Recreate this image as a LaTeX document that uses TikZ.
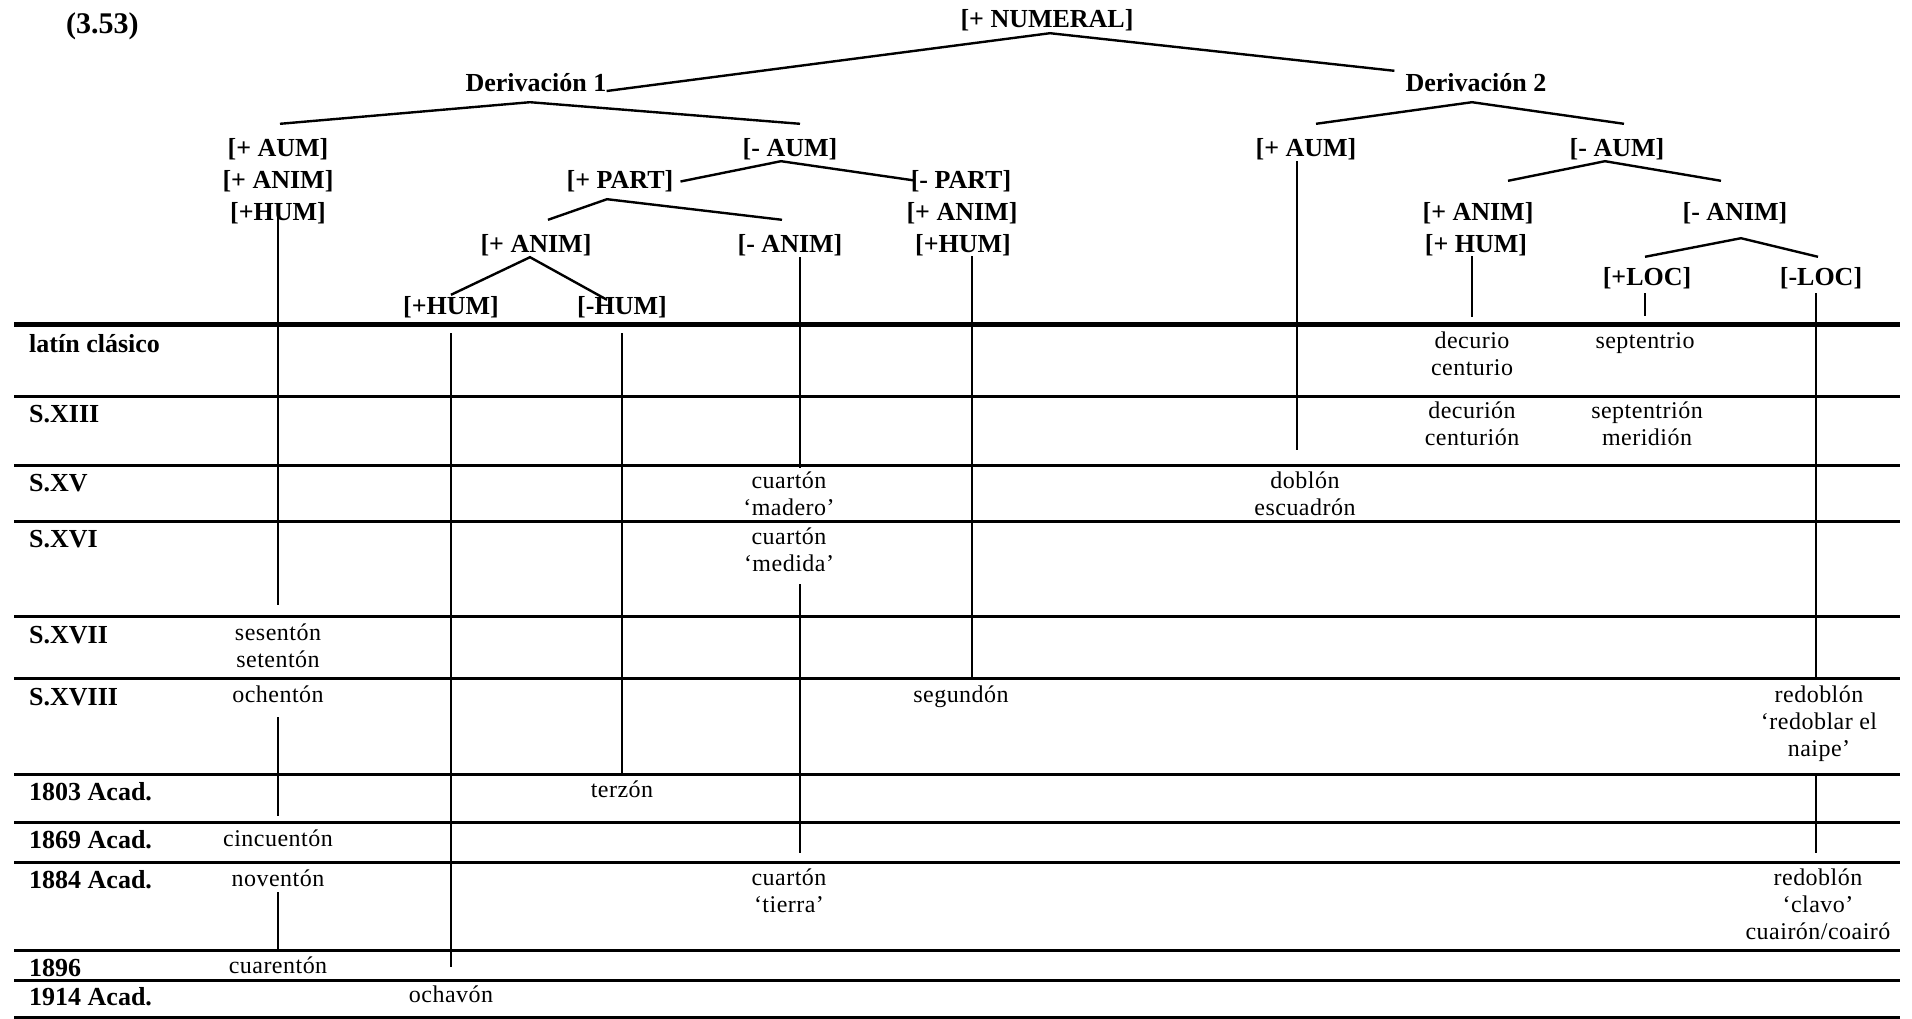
\documentclass[tikz,border=0pt]{standalone}
\usepackage{fontspec}
\setmainfont{Liberation Serif}
\newfontfamily\wordfont[LetterSpace=2]{Liberation Serif}
\usepackage{tikz}

\newcommand{\stk}[1]{\begin{tabular}[t]{@{}c@{}}#1\end{tabular}}

\begin{document}
\begin{tikzpicture}[x=1pt, y=-1pt,
  feat/.style = {font=\fontsize{26}{30}\selectfont\bfseries, inner sep=0pt, anchor=base, text height=19pt, text depth=6pt},
  era/.style = {font=\fontsize{26}{30}\selectfont\bfseries, inner sep=0pt, anchor=base west},
  word/.style = {font=\fontsize{24}{27}\selectfont\wordfont, inner sep=0pt, anchor=base},
  branch/.style = {line width=2.4pt},
  stem/.style = {line width=2pt},
  rule/.style = {line width=3pt}]

\useasboundingbox (0,0) rectangle (1912,1018);

%% title
\node[era, font=\fontsize{30}{34}\selectfont\bfseries] (ex) at (66,33) {(3.53)};

%% feature labels
\node[feat] (numeral) at (1047,27) {[+ NUMERAL]};
\node[feat] (der1) at (536,91) {Derivación 1};
\node[feat] (der2) at (1476,91) {Derivación 2};
\node[feat] (aumA) at (278,156) {[+ AUM]};
\node[feat] (animA) at (278,188) {[+ ANIM]};
\node[feat] (humA) at (278,220) {[+HUM]};
\node[feat] (naumA) at (790,156) {[- AUM]};
\node[feat] (partP) at (620,188) {[+ PART]};
\node[feat] (partM) at (961,188) {[- PART]};
\node[feat] (animM) at (962,220) {[+ ANIM]};
\node[feat] (humM) at (963,252) {[+HUM]};
\node[feat] (animP) at (536,252) {[+ ANIM]};
\node[feat] (nanimP) at (790,252) {[- ANIM]};
\node[feat] (humP) at (451,314) {[+HUM]};
\node[feat] (nhumP) at (622,314) {[-HUM]};
\node[feat] (aumB) at (1306,156) {[+ AUM]};
\node[feat] (naumB) at (1617,156) {[- AUM]};
\node[feat] (animB) at (1478,220) {[+ ANIM]};
\node[feat] (humB) at (1476,252) {[+ HUM]};
\node[feat] (nanimB) at (1735,220) {[- ANIM]};
\node[feat] (locP) at (1647,285) {[+LOC]};
\node[feat] (locM) at (1821,285) {[-LOC]};

%% row labels
\node[era] (latin) at (29,352) {latín clásico};
\node[era] (s13) at (29,422) {S.XIII};
\node[era] (s15) at (29,491) {S.XV};
\node[era] (s16) at (29,547) {S.XVI};
\node[era] (s17) at (29,643) {S.XVII};
\node[era] (s18) at (29,705) {S.XVIII};
\node[era] (y1803) at (29,800) {1803 Acad.};
\node[era] (y1869) at (29,848) {1869 Acad.};
\node[era] (y1884) at (29,888) {1884 Acad.};
\node[era] (y1896) at (29,976) {1896};
\node[era] (y1914) at (29,1005) {1914 Acad.};

%% words
\node[word] (ses) at (278,640) {\stk{sesentón\\setentón}};
\node[word] (ochen) at (278,702) {\stk{ochentón}};
\node[word] (cincu) at (278,846) {\stk{cincuentón}};
\node[word] (noven) at (278,886) {\stk{noventón}};
\node[word] (cuaren) at (278,973) {\stk{cuarentón}};
\node[word] (ochav) at (451,1002) {\stk{ochavón}};
\node[word] (terzon) at (622,797) {\stk{terzón}};
\node[word] (madero) at (789,488) {\stk{cuartón\\‘madero’}};
\node[word] (medida) at (789,544) {\stk{cuartón\\‘medida’}};
\node[word] (tierra) at (789,885) {\stk{cuartón\\‘tierra’}};
\node[word] (segundon) at (961,702) {\stk{segundón}};
\node[word] (doblon) at (1305,488) {\stk{doblón\\escuadrón}};
\node[word] (decurio) at (1472,348) {\stk{decurio\\centurio}};
\node[word] (decurion) at (1472,418) {\stk{decurión\\centurión}};
\node[word] (septen) at (1645,348) {\stk{septentrio}};
\node[word] (septenon) at (1647,418) {\stk{septentrión\\meridión}};
\node[word] (naipe) at (1819,702) {\stk{redoblón\\‘redoblar el\\naipe’}};
\node[word] (clavo) at (1818,885) {\stk{redoblón\\‘clavo’\\cuairón/coairó}};

%%% table rules
\draw[line width=5pt] (14,324) -- (1900,324);
\foreach \y in {396,465,521,616,678,774,822,862,950,980,1017}
  \draw[rule] (14,\y) -- (1900,\y);

%%% branches
\draw[branch] (der1.base east) -- ([xshift=3pt]numeral.south) -- ([xshift=-11pt,yshift=1pt]der2.north west);
\draw[branch] ([xshift=2pt,yshift=13pt]aumA.north) -- ([xshift=-6pt,yshift=-5pt]der1.south) -- ([xshift=10pt,yshift=13pt]naumA.north);
\draw[branch] ([xshift=10pt,yshift=13pt]aumB.north) -- ([xshift=-4pt,yshift=-5pt]der2.south) -- ([xshift=7pt,yshift=13pt]naumB.north);
\draw[branch] ([xshift=7pt]partP.east) -- ([xshift=-9pt,yshift=1pt]naumA.south) -- ([xshift=4pt,yshift=1pt]partM.west);
\draw[branch] ([xshift=12pt,yshift=13pt]animP.north) -- ([xshift=-13pt,yshift=-5pt]partP.south) -- ([xshift=-8pt,yshift=13pt]nanimP.north);
\draw[branch] (humP.north) -- ([xshift=-6pt,yshift=1pt]animP.south) -- ([xshift=-15pt,yshift=-5pt]nhumP.north);
\draw[branch] ([xshift=30pt,yshift=20pt]animB.north) -- ([xshift=-12pt,yshift=1pt]naumB.south) -- ([xshift=-14pt,yshift=20pt]nanimB.north);
\draw[branch] ([xshift=-2pt,yshift=9pt]locP.north) -- ([xshift=6pt,yshift=-12pt]nanimB.south) -- ([xshift=-3pt,yshift=9pt]locM.north);

%%% stems
\draw[stem] ([yshift=10pt]humA.south) -- ([yshift=16pt]ses.north);
\draw[stem] ([yshift=-7pt]ochen.south) -- ([yshift=11pt]cincu.north);
\draw[stem] ([yshift=2pt]noven.south) -- ([yshift=5pt]cuaren.north);
\draw[stem] ([yshift=-13pt]humP.south) -- ([yshift=16pt]ochav.north);
\draw[stem] ([yshift=-13pt]nhumP.south) -- ([yshift=5pt]terzon.north);
\draw[stem] ([xshift=10pt,yshift=1pt]nanimP.south) -- ([xshift=11pt,yshift=1pt]madero.north);
\draw[stem] ([xshift=11pt,yshift=-5pt]medida.south) -- ([xshift=11pt,yshift=13pt]tierra.north);
\draw[stem] ([xshift=9pt,yshift=2pt]humM.south) -- ([xshift=11pt,yshift=6pt]segundon.north);
\draw[stem] ([xshift=-9pt,yshift=1pt]aumB.south) -- ([xshift=-8pt,yshift=19pt]doblon.north);
\draw[stem] ([xshift=-4pt,yshift=2pt]humB.south) -- ([yshift=12pt]decurio.north);
\draw[stem] ([xshift=-2pt,yshift=-2pt]locP.south) -- ([yshift=13pt]septen.north);
\draw[stem] ([xshift=-5pt,yshift=-2pt]locM.south) -- ([xshift=-3pt,yshift=5pt]naipe.north);
\draw[stem] ([xshift=-3pt,yshift=-11pt]naipe.south) -- ([xshift=-2pt,yshift=13pt]clavo.north);

\end{tikzpicture}
\end{document}
